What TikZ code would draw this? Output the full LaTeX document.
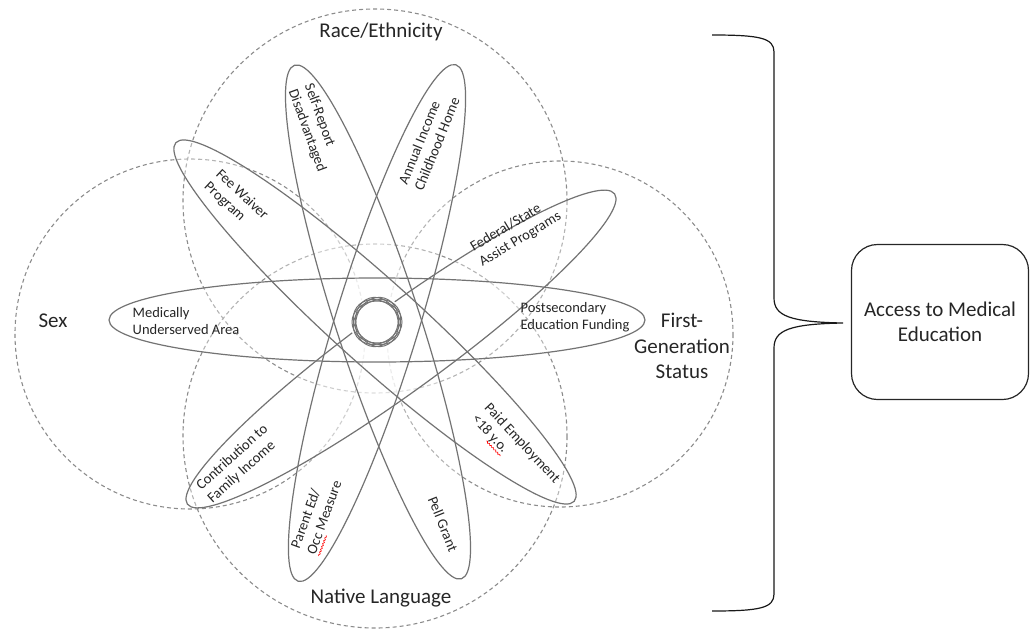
\documentclass[tikz,border=0pt]{standalone}
\usepackage{fontspec}
\setmainfont{Carlito}
\usetikzlibrary{decorations.pathmorphing}
\definecolor{petalline}{gray}{0.45}
\definecolor{groupline}{gray}{0.55}
\newlength\typowd
\newcommand\typo[1]{\settowidth\typowd{#1}\leavevmode\rlap{\tikz[baseline=0pt]\draw[red,line width=0.6pt,decorate,decoration={snake,amplitude=0.7pt,segment length=3pt}] (0pt,-3.5pt) -- (\the\typowd,-3.5pt);}#1}

\begin{document}
\begin{tikzpicture}[x=1pt,y=-1pt,
	group/.style={draw=groupline,dash pattern=on 4pt off 3pt,line width=1.1pt},
	petal/.style={draw=petalline,line width=1.2pt},
	veil/.style={fill=white,fill opacity=0.35},
	big/.style={font=\fontsize{21}{25.5}\selectfont,align=center,text=black!85},
	small/.style={font=\fontsize{14.5}{17}\selectfont,align=left,inner sep=0pt,text=black!85}]
	\useasboundingbox (0,0) rectangle (1032,629);
	% the four groups
	\draw[group] (375,201) circle [radius=192];
	\draw[group] (190,334) circle [radius=175];
	\draw[group] (560,334) circle [radius=173];
	\draw[group] (375,436) circle [radius=192];
	% petals
	\fill[veil] (377,320) ellipse [x radius=268,y radius=42];
	\fill[veil,shift={(375,322)},rotate=-42] (0,0) ellipse [x radius=268,y radius=42];
	\fill[veil,shift={(378,322)},rotate=-72] (0,0) ellipse [x radius=270,y radius=42];
	\fill[veil,shift={(377,323)},rotate=73] (0,0) ellipse [x radius=270,y radius=42];
	\fill[veil,shift={(401,349)},rotate=36] (0,0) ellipse [x radius=264,y radius=42];
	\draw[petal] (377,320) ellipse [x radius=268,y radius=42];
	\draw[petal,shift={(375,322)},rotate=-42] (0,0) ellipse [x radius=268,y radius=42];
	\draw[petal,shift={(378,322)},rotate=-72] (0,0) ellipse [x radius=270,y radius=42];
	\draw[petal,shift={(377,323)},rotate=73] (0,0) ellipse [x radius=270,y radius=42];
	\draw[petal,shift={(401,349)},rotate=36] (0,0) ellipse [x radius=264,y radius=42];
	% hub
	\fill[white] (377,322) circle [radius=27];
	\draw[petal,line width=1pt,shift={(377,322)},rotate=0] (0,0) ellipse [x radius=25,y radius=21];
	\draw[petal,line width=1pt,shift={(377,322)},rotate=36] (0,0) ellipse [x radius=25,y radius=21];
	\draw[petal,line width=1pt,shift={(377,322)},rotate=72] (0,0) ellipse [x radius=25,y radius=21];
	\draw[petal,line width=1pt,shift={(377,322)},rotate=108] (0,0) ellipse [x radius=25,y radius=21];
	\draw[petal,line width=1pt,shift={(377,322)},rotate=144] (0,0) ellipse [x radius=25,y radius=21];
	% group labels
	\node[big] (race) at (381,32) {Race/Ethnicity};
	\node[big] (sex) at (53,321) {Sex};
	\node[big] (firstgen) at (682,346) {First-\\Generation\\Status};
	\node[big] (native) at (381,598) {Native Language};
	% petal labels
	\node[small] (underserved) at (186,321) {Medically\\Underserved Area};
	\node[small,rotate=-43] (feewaiver) at (236,201) {Fee Waiver\\Program};
	\node[small,rotate=-70] (selfreport) at (315,128) {Self-Report\\Disadvantaged};
	\node[small,rotate=68] (income) at (429,141) {Annual Income\\Childhood Home};
	\node[small,rotate=31] (assist) at (516,232) {Federal/State\\Assist Programs};
	\node[small] (funding) at (575,317) {Postsecondary\\Education Funding};
	\node[small,rotate=-47] (employment) at (515,450) {Paid Employment\\<18 \typo{y.o.}};
	\node[small,rotate=-68] (pell) at (443,524) {Pell Grant};
	\node[small,rotate=70] (parented) at (318,515) {Parent Ed/\\\typo{Occ} Measure};
	\node[small,rotate=42] (contribution) at (238,464) {Contribution to\\Family Income};
	% outcome
	\node[big,draw=black!85,line width=1.2pt,rounded corners=26pt,minimum width=177pt,minimum height=155pt] (access) at (940,322) {Access to Medical\\Education};
	\coordinate (tip) at (843,323);
	\draw[black!90,line width=1.2pt] (712,35) .. controls (760,35) and (774,38) .. (774,52) -- (774,298) .. controls (774,316) and (790,322) .. (tip) .. controls (790,324) and (774,330) .. (774,348) -- (774,594) .. controls (774,608) and (760,611) .. (712,611);
\end{tikzpicture}
\end{document}
